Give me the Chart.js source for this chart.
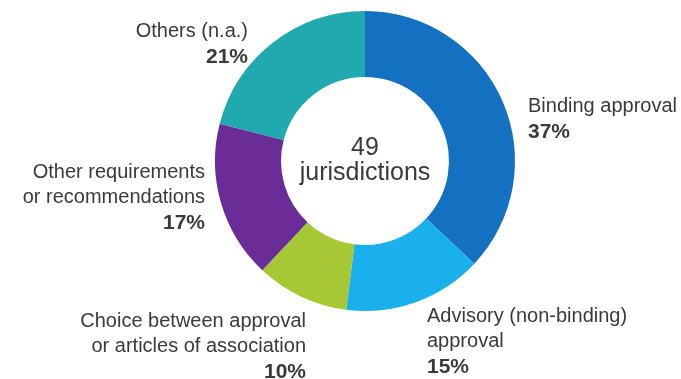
<!DOCTYPE html>
<html>
<head>
<meta charset="utf-8">
<title>Say on pay</title>
<script src="https://cdn.jsdelivr.net/npm/chart.js@4.4.1/dist/chart.umd.min.js"></script>
<style>
    html, body { margin: 0; padding: 0; background: #fff; }
    #wrap { width: 681px; height: 379px; position: relative; }
</style>
</head>
<body>
<div id="wrap"><canvas id="sayOnPayChart" width="681" height="379"></canvas></div>
<script>
// Share of jurisdictions by type of shareholder vote on pay
const categories = [
    ['Binding approval'],
    ['Advisory (non-binding)', 'approval'],
    ['Choice between approval', 'or articles of association'],
    ['Other requirements', 'or recommendations'],
    ['Others (n.a.)']
];
const shares = [37, 15, 10, 17, 21];
const sliceColors = ['#1470c0', '#1ab0ec', '#a6c834', '#6a2c96', '#20aab0'];
const centerLines = ['49', 'jurisdictions'];

// where each label block sits, relative to the doughnut centre (baseline of first line)
const labelLayout = [
    { dx: 163, dy: -49, align: 'left' },
    { dx: 62, dy: 161, align: 'left' },
    { dx: -59, dy: 166, align: 'right' },
    { dx: -160, dy: 17, align: 'right' },
    { dx: -117, dy: -124, align: 'right' }
];

const TEXT_COLOR = '#3a3a3a';
const FONT = '"Liberation Sans", Arial, Helvetica, sans-serif';
const LINE_GAP = 25;

const sliceLabels = {
    id: 'sliceLabels',
    afterDraw(chart) {
        const ctx = chart.ctx;
        const arcs = chart.getDatasetMeta(0).data;
        if (!arcs.length) return;
        const cx = arcs[0].x;
        const cy = arcs[0].y;
        ctx.save();
        ctx.fillStyle = TEXT_COLOR;
        ctx.textBaseline = 'alphabetic';

        arcs.forEach((arc, i) => {
            const pos = labelLayout[i];
            const lines = chart.data.labels[i];
            const value = chart.data.datasets[0].data[i];
            ctx.textAlign = pos.align;
            let y = cy + pos.dy;
            ctx.font = '20px ' + FONT;
            lines.forEach(line => {
                ctx.fillText(line, cx + pos.dx, y);
                y += LINE_GAP;
            });
            ctx.font = 'bold 21px ' + FONT;
            ctx.fillText(value + '%', cx + pos.dx, y + 1);
        });

        // total in the hole
        ctx.textAlign = 'center';
        ctx.font = '25px ' + FONT;
        ctx.fillText(centerLines[0], cx, cy - 6);
        ctx.fillText(centerLines[1], cx, cy + 19);
        ctx.restore();
    }
};

new Chart(document.getElementById('sayOnPayChart'), {
    type: 'doughnut',
    data: {
        labels: categories,
        datasets: [{
            data: shares,
            backgroundColor: sliceColors,
            borderWidth: 0,
            hoverOffset: 0
        }]
    },
    options: {
        responsive: false,
        animation: false,
        cutout: '56%',
        layout: {
            padding: { top: 11, bottom: 68, left: 215, right: 166 }
        },
        plugins: {
            legend: { display: false },
            tooltip: { enabled: false }
        }
    },
    plugins: [sliceLabels]
});
</script>
</body>
</html>
